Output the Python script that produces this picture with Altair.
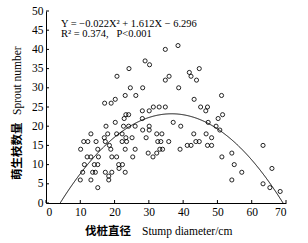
import altair as alt
import pandas as pd

# Stump diameter (cm) and sprout number
diameter = [20.7, 24.2, 28.9, 30.2, 34.8, 38.5, 34.8, 35.9, 24.6, 28.2,
            23.1, 26.2, 17.1, 19.0, 20.2, 28.1, 30.1, 31.3, 33.0, 34.8,
            23.3, 24.1, 22.8, 28.1, 20.2, 44.7, 41.8, 42.3, 43.9, 38.7,
            51.2, 43.2, 45.1, 47.1, 46.6, 51.5, 50.2, 37.1, 47.3,
            39.3, 49.6, 50.7, 17.5, 22.6, 24.1, 26.0, 30.1, 30.1, 28.2,
            33.8, 32.3, 13.1, 18.0, 20.6, 22.2, 23.3, 25.1, 29.2, 11.0,
            12.2, 14.6, 17.0, 17.3, 18.5, 22.2, 23.5, 32.6, 33.5, 35.8,
            10.1, 15.1, 18.9, 23.1, 26.0, 29.8, 31.2, 32.3, 33.2, 34.0,
            12.0, 13.1, 15.3, 19.2, 20.6, 25.3, 11.2, 14.1, 15.1, 21.2,
            22.3, 21.3, 10.7, 13.6, 14.4, 17.3, 19.2, 23.1, 18.3, 18.3,
            10.0, 13.1, 15.1,
            39.1, 41.2, 42.3, 43.7, 44.7, 43.1, 46.7, 48.3, 48.3, 47.1,
            51.3, 54.2, 54.9, 57.1, 54.2, 63.3, 65.9, 63.3, 65.3, 68.3]
sprouts = [33, 35, 37, 36, 40, 41, 32, 33, 30, 30,
           28, 28, 26, 26, 27, 24, 24, 25, 25, 25,
           23, 23, 22, 22, 21, 35, 34, 33, 32, 30,
           28, 27, 25, 25, 24, 23, 22, 21, 21,
           20, 20, 19, 20, 20, 20, 20, 20, 19, 19,
           18, 18, 18, 18, 18, 18, 17, 17, 17, 16,
           16, 16, 17, 16, 15, 16, 16, 16, 16, 16,
           14, 14, 14, 14, 14, 13, 12, 13, 14, 14,
           12, 12, 12, 12, 12, 12, 10, 10, 10, 10,
           10, 9, 8, 8, 8, 8, 8, 8, 7, 6,
           6, 6, 4,
           14, 15, 15, 16, 16, 18, 18, 17, 15, 15,
           12, 13, 10, 8, 6, 15, 9, 5, 4, 3]

# Fitted quadratic printed on the chart: Y = a X^2 + b X + c
coef = [-0.022, 1.612, -6.296]
fit_range = [4.14, 69.3]

x_ticks = [0, 10, 20, 30, 40, 50, 60, 70]
y_ticks = [0, 5, 10, 15, 20, 25, 30, 35, 40, 45, 50]

eq_line1 = "Y = \u22120.022X\u00b2 + 1.612X \u2212 6.296"
eq_line2 = "R\u00b2 = 0.374,\u00a0\u00a0\u00a0P<0.001"
x_title = ["伐桩直径", "Stump diameter/cm"]
y_title = ["萌生枝数量", "Sprout number"]

W, H = 240, 192
serif = "Liberation Serif"
cjk = "Noto Sans CJK SC"

df = pd.DataFrame({"d": diameter, "n": sprouts})

xscale = alt.Scale(domain=[0, 70], nice=False, zero=False)
yscale = alt.Scale(domain=[0, 50], nice=False, zero=False)

xaxis = alt.Axis(values=x_ticks, ticks=False, grid=False, title=None,
                 labelFont=serif, labelFontSize=11.5, labelColor="black",
                 domainColor="black", domainWidth=1, labelPadding=3,
                 labelAngle=0)
yaxis = alt.Axis(values=y_ticks, ticks=False, grid=False, title=None,
                 labelFont=serif, labelFontSize=11.5, labelColor="black",
                 domainColor="black", domainWidth=1, labelPadding=3)

points = alt.Chart(df).mark_point(
    shape="circle", filled=False, color="black", size=17, strokeWidth=0.85, opacity=1
).encode(
    x=alt.X("d:Q", scale=xscale, axis=xaxis),
    y=alt.Y("n:Q", scale=yscale, axis=yaxis),
)

curve = alt.Chart(
    alt.sequence(start=fit_range[0], stop=fit_range[1], step=0.1, as_="d")
).transform_calculate(
    n=f"{coef[0]}*datum.d*datum.d + {coef[1]}*datum.d + {coef[2]}"
).mark_line(color="black", strokeWidth=1, clip=True).encode(
    x=alt.X("d:Q", scale=xscale, axis=xaxis),
    y=alt.Y("n:Q", scale=yscale, axis=yaxis),
)

yt = alt.Chart(pd.DataFrame({"v": y_ticks})).mark_rule(
    color="black", strokeWidth=1
).encode(
    y=alt.Y("v:Q", scale=yscale, axis=yaxis),
    x=alt.value(0), x2=alt.value(3),
)
xt = alt.Chart(pd.DataFrame({"v": x_ticks})).mark_rule(
    color="black", strokeWidth=1
).encode(
    x=alt.X("v:Q", scale=xscale, axis=xaxis),
    y=alt.value(H), y2=alt.value(H - 3),
)

one = pd.DataFrame({"k": [0]})

eq1 = alt.Chart(one).mark_text(
    align="left", baseline="middle", font=serif, fontSize=10.5, color="black"
).encode(x=alt.value(15), y=alt.value(12.5), text=alt.value(eq_line1))
eq2 = alt.Chart(one).mark_text(
    align="left", baseline="middle", font=serif, fontSize=10.5, color="black"
).encode(x=alt.value(15), y=alt.value(22.5), text=alt.value(eq_line2))

xt_cn = alt.Chart(one).mark_text(
    align="left", baseline="middle", font=cjk, fontSize=11.5,
    fontWeight="bold", color="black"
).encode(x=alt.value(39), y=alt.value(221), text=alt.value(x_title[0]))
xt_en = alt.Chart(one).mark_text(
    align="left", baseline="middle", font=serif, fontSize=11.5, color="black"
).encode(x=alt.value(96), y=alt.value(221), text=alt.value(x_title[1]))

yt_cn = alt.Chart(one).mark_text(
    align="left", baseline="middle", font=cjk, fontSize=11.5,
    fontWeight="bold", color="black", angle=270
).encode(x=alt.value(-28), y=alt.value(169), text=alt.value(y_title[0]))
yt_en = alt.Chart(one).mark_text(
    align="left", baseline="middle", font=serif, fontSize=11.5,
    color="black", angle=270
).encode(x=alt.value(-28), y=alt.value(104), text=alt.value(y_title[1]))

chart = alt.layer(
    points, curve, yt, xt, eq1, eq2, xt_cn, xt_en, yt_cn, yt_en
).properties(
    width=W, height=H,
    autosize=alt.AutoSizeParams(type="none"),
    padding={"left": 46, "top": 11, "right": 22, "bottom": 40},
    background="white",
).configure_view(stroke=None)

chart.save("out.html", embed_options={"renderer": "svg", "actions": False})
